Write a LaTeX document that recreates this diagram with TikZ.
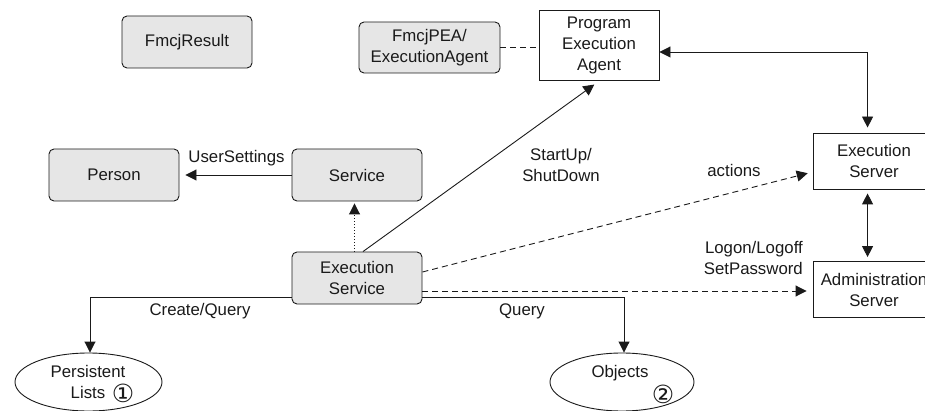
\documentclass[tikz,border=0pt]{standalone}
\usepackage{fontspec}
\setmainfont{Liberation Sans}
\newfontfamily\circfont{DejaVu Sans}
\usetikzlibrary{arrows.meta,shapes.geometric,calc}

\definecolor{boxgray}{HTML}{E6E6E6}
\definecolor{ink}{HTML}{1A1A1A}

\tikzset{
  base/.style={draw=ink, line width=0.9pt, text=ink, align=center,
    font=\fontsize{16.8}{21}\selectfont, inner sep=0pt},
  classbox/.style={base, fill=boxgray, rounded corners=5pt},
  plainbox/.style={base, fill=white},
  store/.style={base, ellipse, fill=white},
  lbl/.style={text=ink, align=center, font=\fontsize{16.8}{21}\selectfont, inner sep=0pt},
  circ/.style={text=ink, font=\circfont\fontsize{25}{25}\selectfont, inner sep=0pt},
  link/.style={draw=ink, line width=0.9pt},
  arr/.style={link, -{Triangle[length=11pt,width=11pt]}},
  arrboth/.style={link, {Triangle[length=11pt,width=11pt]}-{Triangle[length=11pt,width=11pt]}},
  dashline/.style={dash pattern=on 6pt off 4pt},
  dotline/.style={dash pattern=on 1pt off 2pt},
}

\begin{document}
\begin{tikzpicture}[x=1pt, y=-1pt]
  \clip (0,0) rectangle (925,411);

  % class boxes
  \node[classbox, minimum width=130pt, minimum height=52pt] (fr) at (187,42) {FmcjResult};
  \node[classbox, minimum width=141pt, minimum height=51pt] (fp) at (429.5,47.5) {FmcjPEA/\\ExecutionAgent};
  \node[classbox, minimum width=130pt, minimum height=52pt] (pe) at (114,175) {Person};
  \node[classbox, minimum width=130pt, minimum height=52pt] (sv) at (357,175) {Service};
  \node[classbox, minimum width=130pt, minimum height=52pt] (es) at (357,278) {Execution\\Service};

  % processes and servers
  \node[plainbox, minimum width=120pt, minimum height=70pt] (pea) at (599,45) {Program\\Execution\\Agent};
  \node[plainbox, minimum width=122pt, minimum height=56pt] (srv) at (874,161) {Execution\\Server};
  \node[plainbox, minimum width=122pt, minimum height=56pt] (adm) at (874,289.5) {Administration\\Server};

  % persistent stores
  \node[store, minimum width=147pt, minimum height=58pt] (pl) at (88.5,382) {};
  \node[lbl] (plt) at (88,382) {Persistent\\Lists};
  \node[circ] (c1) at (123,393) {①};
  \node[store, minimum width=144pt, minimum height=58pt] (ob) at (622,382) {};
  \node[lbl] (obt) at (620,373) {Objects};
  \node[circ] (c2) at (663,394) {②};

  % FmcjPEA is associated with the program execution agent
  \draw[link, dashline] (fp.east) -- (fp.east -| pea.west);

  % Service -> Person
  \draw[arr, shorten >=6pt] (sv.west) -- (pe.east);
  \node[lbl] (us) at (236.5,158) {UserSettings};

  % Execution Service -> Service (dotted)
  \draw[arr, dotline, shorten >=2pt] ([xshift=-2.5pt]es.north) -- ([xshift=-2.5pt]sv.south);

  % StartUp / ShutDown
  \draw[arr, shorten >=7pt] ([xshift=6pt]es.north) -- ([xshift=1pt]pea.south);
  \node[lbl] (su) at (561,165) {StartUp/\\ShutDown};

  % Program Execution Agent <-> Execution Server
  \coordinate (pa) at ([yshift=-7pt]pea.east);
  \coordinate (st) at ([xshift=55pt]srv.north west);
  \draw[arrboth, shorten >=5pt] (pa) -| (st);

  % Execution Server <-> Administration Server
  \coordinate (sb) at ([xshift=55pt]srv.south west);
  \draw[arrboth, shorten <=4pt, shorten >=4pt] (sb) -- (sb |- adm.north);

  % actions
  \draw[arr, dashline, shorten >=5pt] ([yshift=6pt]es.east) -- ([yshift=-11pt]srv.west);
  \node[lbl] (ac) at (734,170) {actions};

  % Logon / Logoff / SetPassword
  \coordinate (lg) at ([yshift=-13pt]es.east);
  \draw[arr, dashline, shorten >=6pt] (lg) -- (lg -| adm.west);
  \node[lbl, align=right, anchor=east] (lo) at (803,257.5) {Logon/Logoff\\SetPassword};

  % Create / Query
  \coordinate (cq) at ([yshift=-19pt]es.west);
  \draw[arr] (cq) -| ([xshift=1.5pt]pl.north);
  \node[lbl] (cql) at (200,311) {Create/Query};

  % Query
  \coordinate (qo) at ([yshift=-19pt]es.east);
  \draw[arr] (qo) -| ([xshift=2pt]ob.north);
  \node[lbl] (ql) at (522,311) {Query};
\end{tikzpicture}
\end{document}
